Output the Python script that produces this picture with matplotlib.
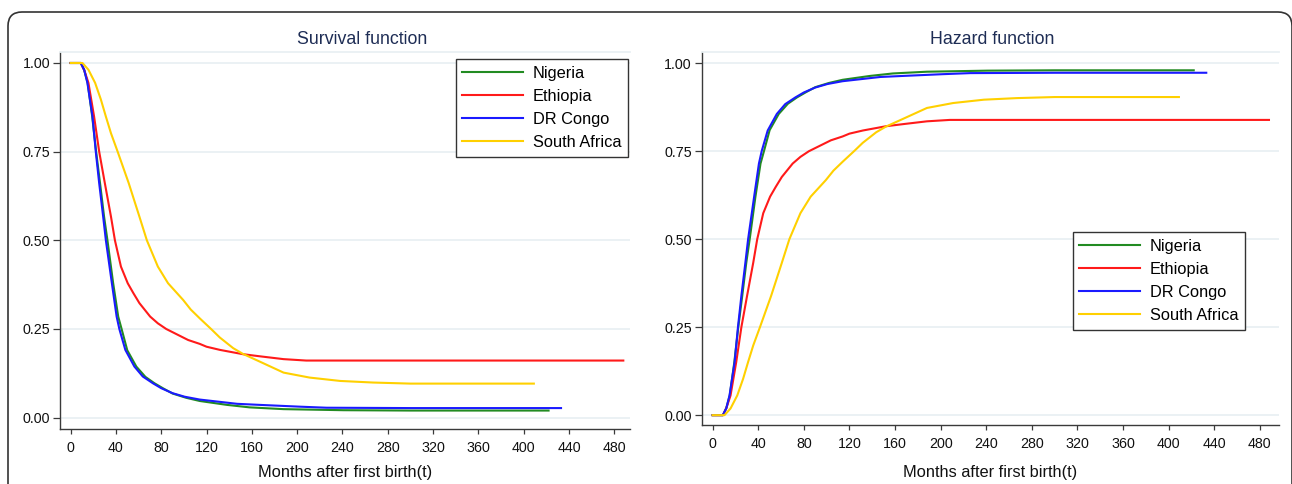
import numpy as np
import matplotlib
matplotlib.use("Agg")
import matplotlib.pyplot as plt
from matplotlib.patches import FancyBboxPatch
from matplotlib.transforms import IdentityTransform

plt.rcParams['font.family'] = ['Liberation Sans', 'DejaVu Sans']

# ---------------- data (months, survival) ----------------
countries = ["Nigeria", "Ethiopia", "DR Congo", "South Africa"]
colors = ["#228b22", "#ff1a1a", "#1a1aff", "#ffd000"]

t_nigeria = [0, 9, 12, 15, 19, 22.5, 26, 29.5, 32.5, 37.5, 42, 45, 50, 58, 66, 74,
             82, 90, 102, 114, 138, 158, 188, 241, 300, 360, 422]
s_nigeria = [1, 1, 0.98, 0.944, 0.85, 0.75, 0.66, 0.567, 0.50, 0.38, 0.285, 0.25,
             0.19, 0.144, 0.115, 0.097, 0.082, 0.068, 0.056, 0.047, 0.036, 0.029,
             0.024, 0.021, 0.020, 0.020, 0.020]

t_ethiopia = [0, 9, 12, 15.7, 20.7, 25.2, 30.2, 35.6, 39.1, 44.4, 50.4, 55.4, 60.7,
              70.2, 77, 84.4, 103.7, 114, 120, 131.9, 152, 167, 188, 208, 488]
s_ethiopia = [1, 1, 0.98, 0.944, 0.849, 0.75, 0.661, 0.567, 0.5, 0.426, 0.379, 0.351,
              0.323, 0.285, 0.266, 0.25, 0.219, 0.208, 0.200, 0.191, 0.179, 0.173,
              0.165, 0.161, 0.161]

t_congo = [0, 9, 12, 14.8, 19.3, 22.2, 25.2, 28.7, 31.1, 36.4, 40.6, 43, 48.3, 56.3,
           63.7, 72.6, 80, 90, 100.7, 114, 147, 167, 202, 226, 300, 433]
s_congo = [1, 1, 0.98, 0.944, 0.849, 0.75, 0.661, 0.567, 0.5, 0.379, 0.285, 0.25,
           0.191, 0.144, 0.116, 0.097, 0.083, 0.069, 0.059, 0.051, 0.039, 0.036,
           0.031, 0.028, 0.027, 0.027]

t_safrica = [0, 10.4, 15.7, 21.6, 26.7, 31.1, 35.6, 41.5, 51.3, 60.7, 67.3, 77, 86,
             99.3, 106, 114, 124, 131.7, 143.5, 152, 167, 188, 211, 238, 267, 300, 409]
s_safrica = [1, 1, 0.981, 0.944, 0.897, 0.849, 0.802, 0.75, 0.661, 0.567, 0.5, 0.426,
             0.379, 0.332, 0.305, 0.28, 0.25, 0.226, 0.196, 0.180, 0.158, 0.127,
             0.113, 0.1035, 0.099, 0.096, 0.096]

times = [t_nigeria, t_ethiopia, t_congo, t_safrica]
survival = [s_nigeria, s_ethiopia, s_congo, s_safrica]

xticks = list(range(0, 481, 40))
yticks = [0, 0.25, 0.5, 0.75, 1.0]

# ---------------- figure ----------------
W, H = 1292, 484
fig = plt.figure(figsize=(W / 100, H / 100), dpi=100)

grid_c = "#e9f0f3"
spine_c = "#3a3a3a"


def px_axes(x0, x1, ytop, ybot):
    return fig.add_axes([x0 / W, (H - ybot) / H, (x1 - x0) / W, (ybot - ytop) / H])


def style(ax, xlim, ylim):
    ax.set_xlim(*xlim)
    ax.set_ylim(*ylim)
    ax.set_xticks(xticks)
    ax.set_yticks(yticks)
    ax.set_yticklabels(["%.2f" % v for v in yticks])
    ax.grid(axis="y", color=grid_c, lw=1.3)
    ax.set_axisbelow(True)
    ax.spines["right"].set_visible(False)
    ax.spines["top"].set_color(grid_c)
    ax.spines["top"].set_linewidth(1.3)
    for s in ("left", "bottom"):
        ax.spines[s].set_color(spine_c)
        ax.spines[s].set_linewidth(1.0)
    ax.tick_params(axis="x", length=3.5, width=0.9, color=spine_c, pad=5,
                   labelsize=10.3, labelcolor="#111111")
    ax.tick_params(axis="y", length=5, width=0.9, color=spine_c, pad=2,
                   labelsize=10.3, labelcolor="#111111")


def legend(ax, anchor):
    leg = ax.legend(loc="upper right", bbox_to_anchor=anchor, borderaxespad=0,
                    fontsize=11.8, handlelength=3.7, handletextpad=0.6,
                    labelspacing=0.5, borderpad=0.4, fancybox=False,
                    framealpha=1, edgecolor="#333333")
    leg.get_frame().set_linewidth(1.0)


# survival function
ax1 = px_axes(60, 630, 52, 429)
for t, s, c, name in zip(times, survival, colors, countries):
    ax1.plot(t, s, color=c, lw=1.5, label=name)
style(ax1, (-9.4, 493.9), (-0.032, 1.031))
legend(ax1, (0.9965, 0.9814))

# hazard panel shows the cumulative failure 1 - S(t)
ax2 = px_axes(701.7, 1279, 52, 425)
for t, s, c, name in zip(times, survival, colors, countries):
    ax2.plot(t, 1 - np.array(s), color=c, lw=1.5, label=name)
style(ax2, (-9.6, 496.8), (-0.028, 1.032))
legend(ax2, (0.941, 0.5174))

title_c = "#1e2d55"
fig.text(362 / W, 1 - 40 / H, "Survival function", ha="center", va="center",
         fontsize=12.8, color=title_c)
fig.text(992 / W, 1 - 40 / H, "Hazard function", ha="center", va="center",
         fontsize=12.8, color=title_c)
fig.text(345 / W, 1 - 473 / H, "Months after first birth(t)", ha="center",
         va="center", fontsize=11.8, color="#111111")
fig.text(990 / W, 1 - 473 / H, "Months after first birth(t)", ha="center",
         va="center", fontsize=11.8, color="#111111")

# rounded outer frame (pixel coordinates, open at the bottom)
frame = FancyBboxPatch((8, -40), 1284, H - 12 + 40,
                       boxstyle="round,pad=0,rounding_size=14",
                       transform=IdentityTransform(), fill=False,
                       edgecolor="#333333", lw=1.2)
fig.add_artist(frame)

fig.savefig("out.png", dpi=100)
